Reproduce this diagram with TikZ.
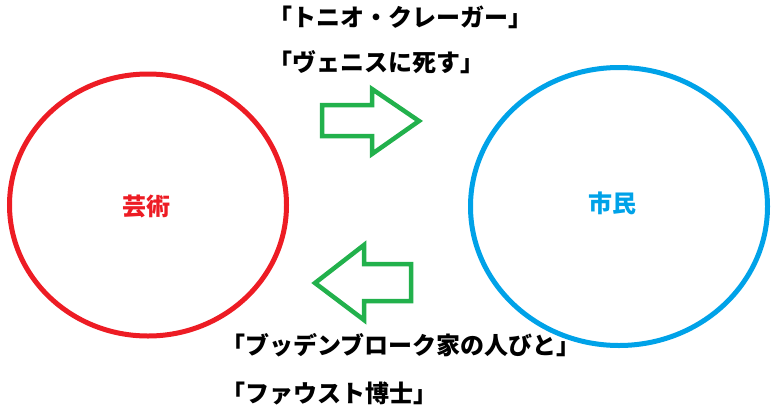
\documentclass[tikz,border=0pt]{standalone}
\usepackage{fontspec}
\setmainfont{Noto Sans CJK JP}
\usepackage{tikz}
\definecolor{paintred}{HTML}{ED1C24}
\definecolor{paintblue}{HTML}{00A2E8}
\definecolor{paintgreen}{HTML}{22B14C}
\tikzset{
  book/.style={anchor=base west,inner sep=0pt,font=\fontsize{24}{28}\selectfont\bfseries},
  ring/.style={line width=5pt},
  bigarrow/.style={line width=4.5pt,draw=paintgreen,line join=miter},
  circlelabel/.style={anchor=base,inner sep=0pt,font=\fontsize{24}{28}\selectfont\bfseries}
}

\begin{document}
\begin{tikzpicture}[x=1pt,y=-1pt]
		\useasboundingbox (0,0) rectangle (781,418);
		\draw [ring,draw=paintred] (148,205) ellipse (138.5 and 131);
		\node [circlelabel,text=paintred] (kunst) at (146,215) {芸術};
		\draw [ring,draw=paintblue] (619,206.5) ellipse (148.5 and 139);
		\node [circlelabel,text=paintblue] (buerger) at (612,212) {市民};
		\draw [bigarrow] (322,105)--(372,105)--(372,89)--(419,121)--(372,154)--(372,136)--(322,136)--cycle;
		\draw [bigarrow] (315,283)--(364,245)--(364,264)--(411,264)--(411,301)--(364,301)--(364,320)--cycle;
		\node [book] (tonio) at (268,26) {「トニオ・クレーガー」};
		\node [book] (venedig) at (268,71) {「ヴェニスに死す」};
		\node [book] (buddenbrooks) at (221,354) {「ブッデンブローク家の人びと」};
		\node [book] (faustus) at (221,402) {「ファウスト博士」};
	\end{tikzpicture}
\end{document}
